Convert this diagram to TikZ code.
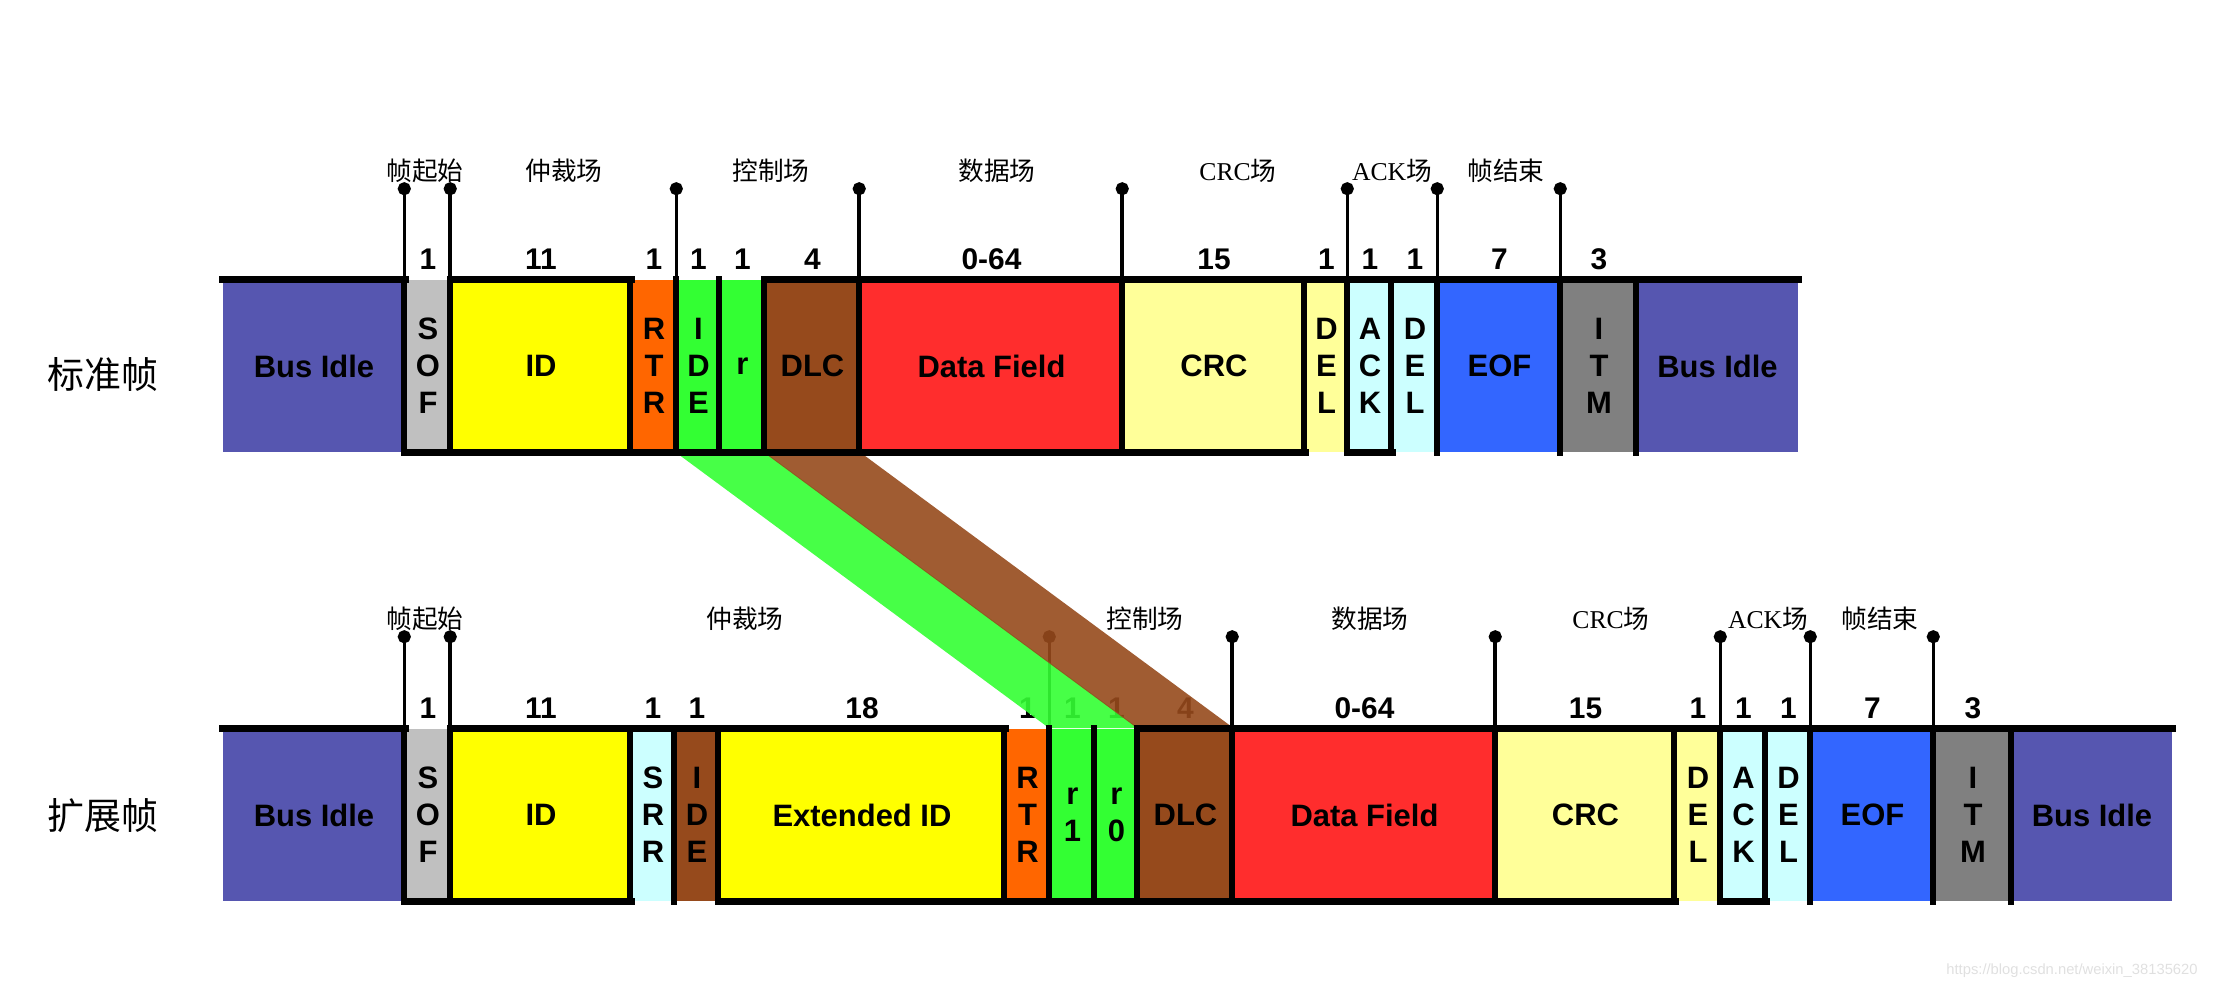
\documentclass[tikz,border=0pt]{standalone}
\usepackage{fontspec}
\setmainfont{Liberation Sans}
\newfontfamily\cjk{Noto Sans CJK SC}
\newfontfamily\tms{Liberation Serif}
\usetikzlibrary{arrows.meta}

\definecolor{idleblue}{RGB}{86,86,176}
\definecolor{sofgray}{RGB}{192,192,192}
\definecolor{idyellow}{RGB}{255,255,0}
\definecolor{rtrorange}{RGB}{255,102,0}
\definecolor{ctrlgreen}{RGB}{51,255,51}
\definecolor{dlcbrown}{RGB}{150,74,28}
\definecolor{datared}{RGB}{255,45,45}
\definecolor{crcyellow}{RGB}{255,255,153}
\definecolor{ackcyan}{RGB}{204,255,255}
\definecolor{eofblue}{RGB}{51,102,255}
\definecolor{itmgray}{RGB}{128,128,128}

\begin{document}
\begin{tikzpicture}[x=0.01cm,y=-0.01cm,
  field/.style={inner sep=0pt,minimum height=1.72cm,align=center,font=\bfseries\fontsize{8.8}{10.5}\selectfont},
  num/.style={font=\bfseries\fontsize{8.5}{10}\selectfont,inner sep=0pt},
  area/.style={font=\cjk\fontsize{7.3}{8}\selectfont,inner sep=0pt},
  side/.style={font=\cjk\fontsize{10.5}{12}\selectfont,inner sep=0pt},
  bar/.style={line width=2pt,line cap=rect,draw=black},
  edge/.style={line width=1.6pt,line cap=rect,draw=black},
  stem/.style={line width=1pt,draw=black,-{Circle[length=1.3mm,width=1.3mm]}},
  ribbon/.style={fill opacity=0.9},
  label distance=0.09cm
]
\useasboundingbox (0,0) rectangle (2217,989);

% standard frame
\node[field,fill=idleblue,minimum width=1.82cm] (idleA) at (314,366) {Bus Idle};
\node[field,fill=sofgray,minimum width=0.46cm,label={[num]above:1}] (sofA) at (428,366) {S\\O\\F};
\node[field,fill=idyellow,minimum width=1.80cm,label={[num]above:11}] (idA) at (541,366) {ID};
\node[field,fill=rtrorange,minimum width=0.46cm,label={[num]above:1}] (rtrA) at (654,366) {R\\T\\R};
\node[field,fill=ctrlgreen,minimum width=0.43cm,label={[num]above:1}] (ideA) at (698.5,366) {I\\D\\E};
\node[field,fill=ctrlgreen,minimum width=0.45cm,label={[num]above:1}] (rA) at (742.5,366) {r};
\node[field,fill=dlcbrown,minimum width=0.95cm,label={[num]above:4}] (dlcA) at (812.5,366) {DLC};
\node[field,fill=datared,minimum width=2.63cm,label={[num]above:0-64}] (dataA) at (991.5,366) {Data Field};
\node[field,fill=crcyellow,minimum width=1.82cm,label={[num]above:15}] (crcA) at (1214,366) {CRC};
\node[field,fill=crcyellow,minimum width=0.43cm,label={[num]above:1}] (delA) at (1326.5,366) {D\\E\\L};
\node[field,fill=ackcyan,minimum width=0.44cm,label={[num]above:1}] (ackA) at (1370,366) {A\\C\\K};
\node[field,fill=ackcyan,minimum width=0.46cm,label={[num]above:1}] (delbA) at (1415,366) {D\\E\\L};
\node[field,fill=eofblue,minimum width=1.23cm,label={[num]above:7}] (eofA) at (1499.5,366) {EOF};
\node[field,fill=itmgray,minimum width=0.76cm,label={[num]above:3}] (itmA) at (1599,366) {I\\T\\M};
\node[field,fill=idleblue,minimum width=1.61cm] (idleB) at (1717.5,366) {Bus Idle};

% extended frame
\node[field,fill=idleblue,minimum width=1.82cm] (idleC) at (314,815) {Bus Idle};
\node[field,fill=sofgray,minimum width=0.46cm,label={[num]above:1}] (sofB) at (428,815) {S\\O\\F};
\node[field,fill=idyellow,minimum width=1.80cm,label={[num]above:11}] (idB) at (541,815) {ID};
\node[field,fill=ackcyan,minimum width=0.44cm,label={[num]above:1}] (srrB) at (653,815) {S\\R\\R};
\node[field,fill=dlcbrown,minimum width=0.44cm,label={[num]above:1}] (ideB) at (697,815) {I\\D\\E};
\node[field,fill=idyellow,minimum width=2.86cm,label={[num]above:18}] (extB) at (862,815) {Extended ID};
\node[field,fill=rtrorange,minimum width=0.45cm,label={[num]above:1}] (rtrB) at (1027.5,815) {R\\T\\R};
\node[field,fill=ctrlgreen,minimum width=0.45cm,label={[num]above:1}] (rone) at (1072.5,815) {r\\1};
\node[field,fill=ctrlgreen,minimum width=0.43cm,label={[num]above:1}] (rzero) at (1116.5,815) {r\\0};
\node[field,fill=dlcbrown,minimum width=0.95cm,label={[num]above:4}] (dlcB) at (1185.5,815) {DLC};
\node[field,fill=datared,minimum width=2.63cm,label={[num]above:0-64}] (dataB) at (1364.5,815) {Data Field};
\node[field,fill=crcyellow,minimum width=1.79cm,label={[num]above:15}] (crcB) at (1585.5,815) {CRC};
\node[field,fill=crcyellow,minimum width=0.46cm,label={[num]above:1}] (delB) at (1698,815) {D\\E\\L};
\node[field,fill=ackcyan,minimum width=0.45cm,label={[num]above:1}] (ackB) at (1743.5,815) {A\\C\\K};
\node[field,fill=ackcyan,minimum width=0.45cm,label={[num]above:1}] (delbB) at (1788.5,815) {D\\E\\L};
\node[field,fill=eofblue,minimum width=1.23cm,label={[num]above:7}] (eofB) at (1872.5,815) {EOF};
\node[field,fill=itmgray,minimum width=0.78cm,label={[num]above:3}] (itmB) at (1973,815) {I\\T\\M};
\node[field,fill=idleblue,minimum width=1.60cm] (idleD) at (2092,815) {Bus Idle};

% field names
\node[area] (sofname) at (425,171) {帧起始};
\node[area] (arbname) at (564,171) {仲裁场};
\node[area] (ctrlname) at (771,171) {控制场};
\node[area] (dataname) at (997,171) {数据场};
\node[area] (crcname) at (1238,171) {{\tms CRC}场};
\node[area] (ackname) at (1392,171) {{\tms ACK}场};
\node[area] (eofname) at (1506,171) {帧结束};
\node[area] (sofnameB) at (425,619) {帧起始};
\node[area] (arbnameB) at (745,619) {仲裁场};
\node[area] (ctrlnameB) at (1145,619) {控制场};
\node[area] (datanameB) at (1370,619) {数据场};
\node[area] (crcnameB) at (1611,619) {{\tms CRC}场};
\node[area] (acknameB) at (1768,619) {{\tms ACK}场};
\node[area] (eofnameB) at (1880,619) {帧结束};

\node[side] (std) at (103,375) {标准帧};
\node[side] (ext) at (103,816) {扩展帧};

% markers
\foreach \n in {sofA,idA,ideA,dataA,crcA,ackA,eofA,itmA}
  \draw[stem] (\n.north west) -- ++(0,-97);
\foreach \n in {sofB,idB,rone,dataB,crcB,ackB,eofB,itmB}
  \draw[stem] (\n.north west) -- ++(0,-98);

% control field moved
\fill[ctrlgreen,ribbon] (ideA.south west) -- (rA.south east) -- (rzero.north east) -- (rone.north west) -- cycle;
\fill[dlcbrown,ribbon] (dlcA.south west) -- (dlcA.south east) -- (dlcB.north east) -- (dlcB.north west) -- cycle;

% signal lines
\draw[bar] (idleA.north west) -- (idleA.north east);
\draw[bar] (idA.north west) -- (idA.north east);
\draw[bar] (dlcA.north west) -- (idleB.north east);
\draw[bar] (sofA.south west) -- (crcA.south east);
\draw[bar] (ackA.south west) -- (ackA.south east);
\foreach \n in {sofA,idA,rtrA,ideA,rA,dlcA,dataA,crcA,delA,ackA,delbA,eofA,itmA,idleB}
  \draw[edge] (\n.north west) -- (\n.south west);

\draw[bar] (idleC.north west) -- (idleC.north east);
\draw[bar] (idB.north west) -- (extB.north east);
\draw[bar] (dlcB.north west) -- (idleD.north east);
\draw[bar] (sofB.south west) -- (idB.south east);
\draw[bar] (extB.south west) -- (crcB.south east);
\draw[bar] (ackB.south west) -- (ackB.south east);
\foreach \n in {sofB,idB,srrB,ideB,extB,rtrB,rone,rzero,dlcB,dataB,crcB,delB,ackB,delbB,eofB,itmB,idleD}
  \draw[edge] (\n.north west) -- (\n.south west);

\node[font=\fontsize{4.2}{5}\selectfont,text=black!12,inner sep=0pt] (mark) at (2072,971) {https://blog.csdn.net/weixin\_38135620};
\end{tikzpicture}
\end{document}
